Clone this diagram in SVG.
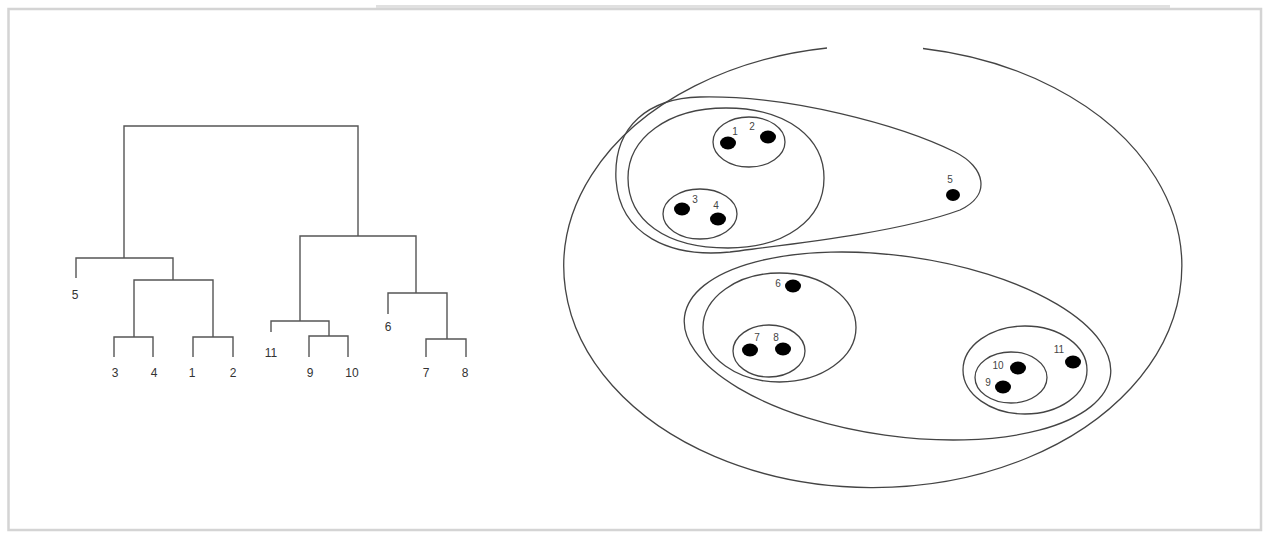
<svg xmlns="http://www.w3.org/2000/svg" width="1268" height="533" viewBox="0 0 1268 533">
  <style>
    .ln{fill:none;stroke:#444;stroke-width:1.3}
    .dg{fill:none;stroke:#555;stroke-width:1.4}
    .dot{fill:#000}
    .lbl{font-family:"Liberation Sans",Arial,sans-serif;font-size:12px;fill:#333;text-anchor:middle}
    .sl{font-family:"Liberation Sans",Arial,sans-serif;font-size:10px;fill:#444;text-anchor:middle}
  </style>
  <rect x="0" y="0" width="1268" height="533" fill="#ffffff"/>
  <rect id="frame" x="8.5" y="9" width="1252.5" height="521" fill="#ffffff" stroke="#d4d4d4" stroke-width="2.5"/>
  <line x1="376" y1="6.5" x2="1170" y2="6.5" stroke="#e0e0e0" stroke-width="3"/>

  <g id="dendrogram" class="dg">
    <path d="M124,258 V126 H358 V236"/>
    <path d="M76,278 V258 H173 V280"/>
    <path d="M134,337 V280 H213 V337"/>
    <path d="M114,357 V337 H153 V357"/>
    <path d="M193,357 V337 H233 V357"/>
    <path d="M300,321 V236 H416 V293"/>
    <path d="M271,332 V321 H329 V336"/>
    <path d="M309,357 V336 H348 V357"/>
    <path d="M388,314 V293 H447 V339"/>
    <path d="M426,357 V339 H466 V357"/>
  </g>
  <g id="dendrogram-labels">
    <text class="lbl" x="75" y="299">5</text>
    <text class="lbl" x="115" y="377">3</text>
    <text class="lbl" x="154" y="377">4</text>
    <text class="lbl" x="192" y="377">1</text>
    <text class="lbl" x="233" y="377">2</text>
    <text class="lbl" x="271" y="357">11</text>
    <text class="lbl" x="310" y="377">9</text>
    <text class="lbl" x="352" y="377">10</text>
    <text class="lbl" x="388" y="331">6</text>
    <text class="lbl" x="426" y="377">7</text>
    <text class="lbl" x="465" y="377">8</text>
  </g>

  <g id="cluster-all">
    <path class="ln" d="M923,48.5 A309 221 0 1 1 827,48"/>
  </g>
  <g id="cluster-1-5">
    <path class="ln" d="M700,97 C790,95 900,125 955,152 C985,167 992,195 960,210 C900,232 800,243 730,252 C670,258 620,235 616,180 C613,125 650,98 700,97 Z"/>
  </g>
  <g id="cluster-1-4">
    <path class="ln" d="M726,108 C790,108 824,140 824,178 C824,220 785,248 728,248 C665,248 628,220 628,178 C628,138 668,108 726,108 Z"/>
  </g>
  <g id="cluster-1-2">
    <ellipse class="ln" cx="749" cy="142" rx="36" ry="25"/>
  </g>
  <g id="cluster-3-4">
    <ellipse class="ln" cx="700" cy="214" rx="37" ry="25"/>
  </g>
  <g id="cluster-6-11">
    <ellipse class="ln" cx="897.5" cy="346" rx="215" ry="90" transform="rotate(8 897.5 346)"/>
  </g>
  <g id="cluster-6-8">
    <ellipse class="ln" cx="779.5" cy="327.5" rx="76.5" ry="54.5"/>
  </g>
  <g id="cluster-7-8">
    <ellipse class="ln" cx="769" cy="351" rx="36" ry="26"/>
  </g>
  <g id="cluster-9-11">
    <ellipse class="ln" cx="1025" cy="370" rx="62" ry="44"/>
  </g>
  <g id="cluster-9-10">
    <ellipse class="ln" cx="1011" cy="377.5" rx="36" ry="25.5"/>
  </g>

  <g id="p1"><ellipse class="dot" cx="728" cy="143" rx="8" ry="6.5"/><text class="sl" x="735" y="135">1</text></g>
  <g id="p2"><ellipse class="dot" cx="768" cy="137" rx="8" ry="6.5"/><text class="sl" x="752" y="130">2</text></g>
  <g id="p3"><ellipse class="dot" cx="682" cy="209" rx="8" ry="6.5"/><text class="sl" x="695" y="203">3</text></g>
  <g id="p4"><ellipse class="dot" cx="718" cy="219" rx="8" ry="6.5"/><text class="sl" x="716" y="209">4</text></g>
  <g id="p5"><ellipse class="dot" cx="953" cy="195" rx="7" ry="6"/><text class="sl" x="950" y="183">5</text></g>
  <g id="p6"><ellipse class="dot" cx="793" cy="286" rx="8" ry="6.5"/><text class="sl" x="778" y="287">6</text></g>
  <g id="p7"><ellipse class="dot" cx="750" cy="350" rx="8" ry="6.5"/><text class="sl" x="757" y="341">7</text></g>
  <g id="p8"><ellipse class="dot" cx="783" cy="349" rx="8" ry="6.5"/><text class="sl" x="776" y="341">8</text></g>
  <g id="p9"><ellipse class="dot" cx="1003" cy="387" rx="8" ry="6.5"/><text class="sl" x="988" y="386">9</text></g>
  <g id="p10"><ellipse class="dot" cx="1018" cy="368" rx="8" ry="6.5"/><text class="sl" x="998" y="369">10</text></g>
  <g id="p11"><ellipse class="dot" cx="1073" cy="362" rx="8" ry="6.5"/><text class="sl" x="1059" y="353">11</text></g>
</svg>
